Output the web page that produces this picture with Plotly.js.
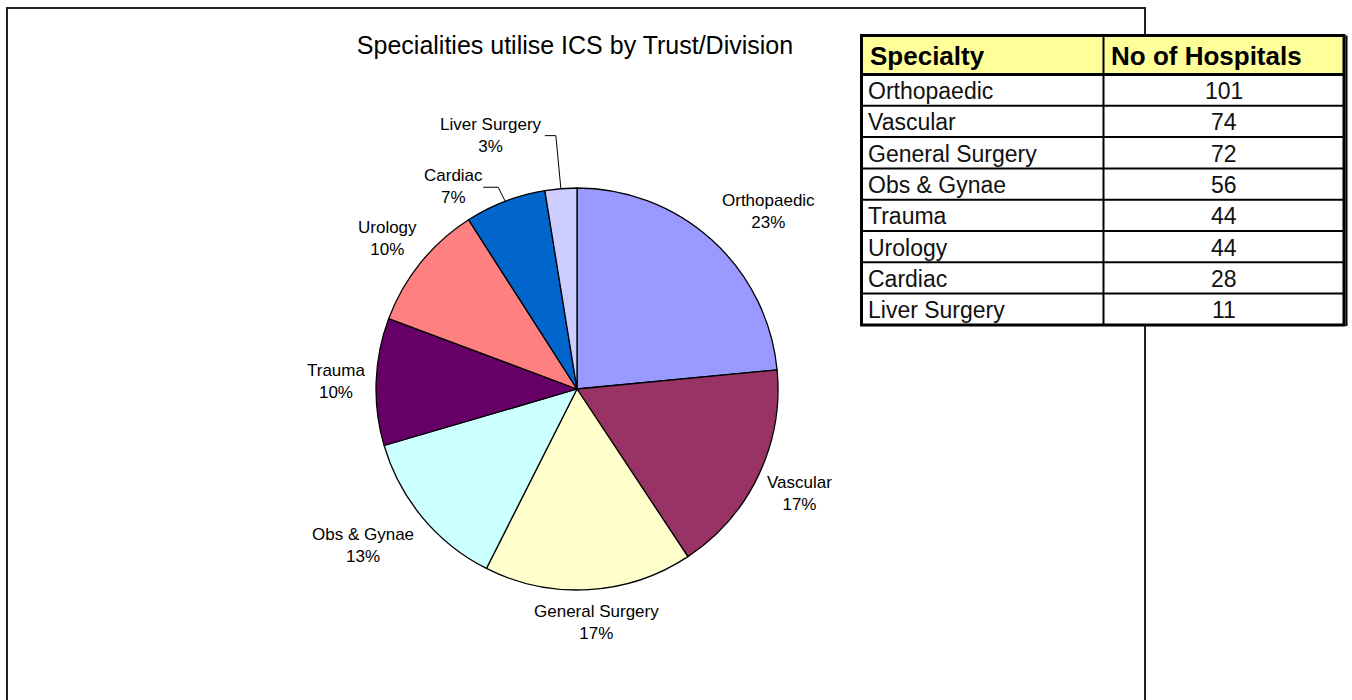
<!DOCTYPE html>
<html><head><meta charset="utf-8">
<script src="https://cdn.plot.ly/plotly-3.0.1.min.js"></script>
<style>html,body{margin:0;padding:0;background:#fff;} #chart{width:1352px;height:700px;}</style>
</head><body><div id="chart"></div>
<script>
// ---- data ----
const chartTitle = "Specialities utilise ICS by Trust/Division";
const specialties = ["Orthopaedic","Vascular","General Surgery","Obs & Gynae","Trauma","Urology","Cardiac","Liver Surgery"];
const hospitals = [101, 74, 72, 56, 44, 44, 28, 11];
const tableHeader = ["Specialty", "No of Hospitals"];

// ---- style ----
const sliceColors = ["#9999FF","#993366","#FFFFCC","#CCFFFF","#660066","#FF8080","#0066CC","#CCCCFF"];
const W = 1352, H = 700;
const CX = 577, CY = 389, R = 201;
const FONT = 'Arial, "Liberation Sans", sans-serif';
const labelOffsets = [[56,-29],[41,18],[8,33],[-60,28],[-40,0],[-33,-24],[-52,-15],[-70,-53]];
const leaderPts = {6: [[-22,-14],[-7,-14]], 7: [[-16,-53],[-5,-53]]};

const px = v => v / W;
const py = v => 1 - v / H;

const total = hospitals.reduce((a,b)=>a+b,0);
const annotations = [];
const shapes = [];

// chart area border
shapes.push({type:'rect', xref:'paper', yref:'paper', x0:px(7), x1:px(1145), y0:py(8), y1:py(704),
  line:{color:'#222', width:2}, fillcolor:'rgba(0,0,0,0)'});

// pie labels computed from data
let cum = 0;
hospitals.forEach((v, i) => {
  const mid = (cum + v/2) / total;
  cum += v;
  const th = mid * 2 * Math.PI;
  const ex = CX + R * Math.sin(th), ey = CY - R * Math.cos(th);
  const [dx, dy] = labelOffsets[i];
  const pct = Math.round(v / total * 100);
  annotations.push({xref:'paper', yref:'paper', x:px(ex+dx), y:py(ey+dy), xanchor:'center', yanchor:'middle',
    text: specialties[i] + '<br>' + pct + '%', showarrow:false, align:'center',
    font:{family:FONT, size:17, color:'#000'}});
  if (leaderPts[i]) {
    const [s, e] = leaderPts[i];
    const path = `M ${px(ex+s[0])} ${py(ey+s[1])} L ${px(ex+e[0])} ${py(ey+e[1])} L ${px(ex)} ${py(ey)}`;
    shapes.push({type:'path', xref:'paper', yref:'paper', path, line:{color:'#000', width:1}});
  }
});

// table built from the data arrays
const TX0 = 861.5, TX1 = 1344, TDIV = 1103.5, TY0 = 35.5, THB = 74.5, ROWH = 31.3;
const TY1 = THB + ROWH * specialties.length;
shapes.push({type:'rect', xref:'paper', yref:'paper', x0:px(TX0), x1:px(TX1), y0:py(TY0), y1:py(THB),
  fillcolor:'#FFFF99', line:{width:0}});
shapes.push({type:'rect', xref:'paper', yref:'paper', x0:px(TX0), x1:px(TX1), y0:py(THB), y1:py(TY1),
  fillcolor:'#FFFFFF', line:{width:0}});
for (let r = 0; r < specialties.length; r++) {
  const yb = THB + ROWH * r;
  shapes.push({type:'line', xref:'paper', yref:'paper', x0:px(TX0), x1:px(TX1), y0:py(yb), y1:py(yb),
    line:{color:'#000', width: r === 0 ? 3 : 2}});
}
shapes.push({type:'line', xref:'paper', yref:'paper', x0:px(TDIV), x1:px(TDIV), y0:py(TY0), y1:py(TY1),
  line:{color:'#000', width:2}});
shapes.push({type:'rect', xref:'paper', yref:'paper', x0:px(TX0), x1:px(TX1), y0:py(TY0), y1:py(TY1),
  line:{color:'#000', width:3}, fillcolor:'rgba(0,0,0,0)'});
shapes.push({type:'line', xref:'paper', yref:'paper', x0:px(TX1+2.5), x1:px(TX1+2.5), y0:py(TY0), y1:py(TY1+1),
  line:{color:'#000', width:2}});

tableHeader.forEach((h, c) => {
  annotations.push({xref:'paper', yref:'paper', x: c === 0 ? px(TX0+6) : px(TDIV+5),
    xanchor:'left', y: py((TY0+THB)/2 + 1), yanchor:'middle',
    text:'<b>' + h + '</b>', showarrow:false, font:{family:FONT, size:26, color:'#000'}});
});
specialties.forEach((s, r) => {
  const yc = THB + ROWH * (r + 0.5) + 1;
  annotations.push({xref:'paper', yref:'paper', x:px(TX0+4), xanchor:'left', y:py(yc), yanchor:'middle',
    text:s, showarrow:false, font:{family:FONT, size:23, color:'#111'}});
  annotations.push({xref:'paper', yref:'paper', x:px((TDIV+TX1)/2), xanchor:'center', y:py(yc), yanchor:'middle',
    text:String(hospitals[r]), showarrow:false, font:{family:FONT, size:23, color:'#111'}});
});

const trace = {
  type:'pie', labels:specialties, values:hospitals, sort:false, direction:'clockwise', rotation:0,
  marker:{colors:sliceColors, line:{color:'#000', width:1.3}},
  textinfo:'none', hoverinfo:'label+value+percent',
  domain:{x:[px(CX-R), px(CX+R)], y:[py(CY+R), py(CY-R)]}
};

const layout = {
  width:W, height:H, margin:{l:0, r:0, t:0, b:0}, paper_bgcolor:'#fff', showlegend:false,
  title:{text:chartTitle, x:px(575), xanchor:'center', xref:'paper', y:py(45), yref:'container', yanchor:'middle',
    font:{family:FONT, size:25, color:'#000'}},
  shapes, annotations
};
Plotly.newPlot('chart', [trace], layout, {displayModeBar:false, staticPlot:true});
</script></body></html>
